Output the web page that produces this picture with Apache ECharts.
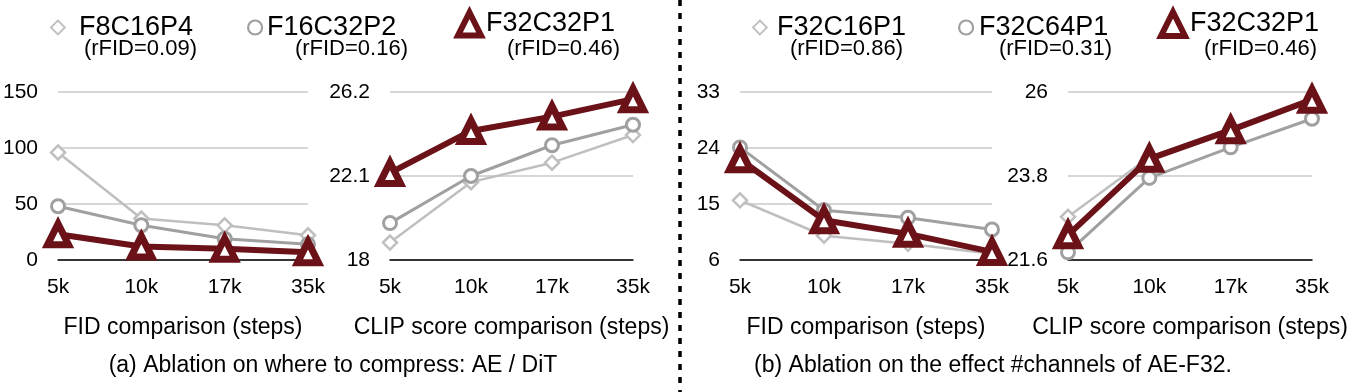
<!DOCTYPE html>
<html>
<head>
<meta charset="utf-8">
<script src="https://cdn.jsdelivr.net/npm/echarts@6/dist/echarts.min.js"></script>
<style>
	html, body { margin: 0; padding: 0; background: #fff; }
	#chart { width: 1370px; height: 392px; }
</style>
</head>
<body>
<div id="chart"></div>
<script>
const steps = ['5k', '10k', '17k', '35k'];

// (a) where to compress
const namesA = ['F8C16P4', 'F16C32P2', 'F32C32P1'];
const rfidA = ['(rFID=0.09)', '(rFID=0.16)', '(rFID=0.46)'];
const fidA = [
	[96, 37, 31, 22],
	[48, 31, 19, 14],
	[23, 12, 10, 7]
];
const clipA = [
	[18.85, 21.8, 22.75, 24.1],
	[19.8, 22.1, 23.6, 24.6],
	[22.25, 24.3, 25.0, 25.85]
];

// (b) channels of AE-F32
const namesB = ['F32C16P1', 'F32C64P1', 'F32C32P1'];
const rfidB = ['(rFID=0.86)', '(rFID=0.31)', '(rFID=0.46)'];
const fidB = [
	[15.6, 9.9, 8.6, 7.0],
	[24.1, 14.0, 12.8, 10.9],
	[22.2, 12.4, 10.2, 7.3]
];
const clipB = [
	[22.73, 24.3, 25.05, 25.8],
	[21.8, 23.75, 24.55, 25.3],
	[22.25, 24.25, 25.0, 25.8]
];

// y ticks per panel: [min, max, step]
const yTicks = [[0, 150, 50], [18, 26.2, 4.1], [6, 33, 9], [21.6, 26, 2.2]];
const axisTitles = ['FID comparison (steps)', 'CLIP score comparison (steps)', 'FID comparison (steps)', 'CLIP score comparison (steps)'];
const captions = ['(a) Ablation on where to compress: AE / DiT', '(b) Ablation on the effect #channels of AE-F32.'];

const FONT = '"Liberation Sans", Arial, sans-serif';
const LIGHT = '#bfbfbf';
const MID = '#a0a0a0';
const RED = '#6b1219';

const styles = [
	{ symbol: 'diamond', size: 14, color: LIGHT, width: 2.5, border: 2.5 },
	{ symbol: 'circle', size: 13, color: MID, width: 3, border: 3 },
	{ symbol: 'triangle', size: 21, color: RED, width: 6, border: 7 }
];

const grids = [
	{ left: 57, top: 92, width: 251, height: 168 },
	{ left: 390, top: 92, width: 243, height: 168 },
	{ left: 740, top: 92, width: 252, height: 168 },
	{ left: 1068, top: 92, width: 244, height: 168 }
];

const panels = [
	{ names: namesA, data: fidA },
	{ names: namesA, data: clipA },
	{ names: namesB, data: fidB },
	{ names: namesB, data: clipB }
];

const xAxes = grids.map((g, i) => ({
	type: 'category',
	gridIndex: i,
	data: steps,
	boundaryGap: false,
	axisLine: { show: true, lineStyle: { color: '#000', width: 1.5 } },
	axisTick: { show: false },
	axisLabel: { color: '#000', fontSize: 21, fontFamily: FONT, margin: 17 },
	name: axisTitles[i],
	nameLocation: 'middle',
	nameGap: 56,
	nameTextStyle: { color: '#000', fontSize: 23, fontFamily: FONT }
}));

// axes are offset by min so the interval starts at 0
const yAxes = yTicks.map(([min, max, step], i) => ({
	type: 'value',
	gridIndex: i,
	min: 0,
	max: +(max - min).toFixed(2),
	interval: step,
	axisLine: { show: false },
	axisTick: { show: false },
	splitLine: { lineStyle: { color: '#c8c8c8', width: 1.5 } },
	axisLabel: {
		color: '#000', fontSize: 21, fontFamily: FONT, margin: 20,
		formatter: v => String(+(v + min).toFixed(1))
	}
}));

const series = [];
panels.forEach((p, i) => {
	const base = yTicks[i][0];
	p.data.forEach((vals, k) => {
		const s = styles[k];
		series.push({
			type: 'line',
			name: p.names[k],
			xAxisIndex: i,
			yAxisIndex: i,
			data: vals.map(v => +(v - base).toFixed(3)),
			symbol: s.symbol,
			symbolSize: s.size,
			lineStyle: { color: s.color, width: s.width },
			itemStyle: { color: '#fff', borderColor: s.color, borderWidth: s.border },
			z: 2 + k,
			silent: true,
			animation: false
		});
	});
});

// one legend per entry so each sits where the figure has it
const legendSpots = [
	{ name: namesA[0], icon: 'diamond', left: 50, size: 14, pad: 9, color: LIGHT, border: 1.8 },
	{ name: namesA[1], icon: 'circle', left: 247, size: 14, pad: 0, color: MID, border: 2.2 },
	{ name: namesA[2], icon: 'triangle', left: 455, size: 23, pad: 0, color: RED, border: 6 },
	{ name: namesB[0], icon: 'diamond', left: 752, size: 14, pad: 5, color: LIGHT, border: 1.8 },
	{ name: namesB[1], icon: 'circle', left: 958, size: 14, pad: 1, color: MID, border: 2.2 },
	{ name: namesB[2], icon: 'triangle', left: 1158, size: 24, pad: 0, color: RED, border: 6 }
];

const legends = legendSpots.map(l => ({
	data: [{ name: l.name, icon: l.icon }],
	left: l.left,
	top: 21 - l.size / 2,
	padding: 0,
	itemWidth: l.size,
	itemHeight: l.size,
	selectedMode: false,
	itemStyle: { color: '#fff', borderColor: l.color, borderWidth: l.border },
	textStyle: { color: '#000', fontSize: 27, fontFamily: FONT, padding: [6, 0, 0, l.pad] }
}));

const rfidSpots = [
	[rfidA[0], 197], [rfidA[1], 408], [rfidA[2], 620],
	[rfidB[0], 903], [rfidB[1], 1112], [rfidB[2], 1317]
];

const graphics = rfidSpots.map(([text, x]) => ({
	type: 'text',
	style: { text, x, y: 49, align: 'right', verticalAlign: 'middle', fill: '#000', font: '22px ' + FONT }
}));

[333, 993].forEach((x, i) => {
	graphics.push({
		type: 'text',
		style: { text: captions[i], x, y: 366, align: 'center', verticalAlign: 'middle', fill: '#000', font: '23px ' + FONT }
	});
});

graphics.push({
	type: 'line',
	shape: { x1: 680, y1: 0, x2: 680, y2: 392 },
	style: { stroke: '#000', lineWidth: 3.5, lineDash: [6, 7] }
});

const chart = echarts.init(document.getElementById('chart'));
chart.setOption({
	animation: false,
	backgroundColor: '#fff',
	grid: grids,
	xAxis: xAxes,
	yAxis: yAxes,
	legend: legends,
	series,
	graphic: graphics
});
</script>
</body>
</html>
